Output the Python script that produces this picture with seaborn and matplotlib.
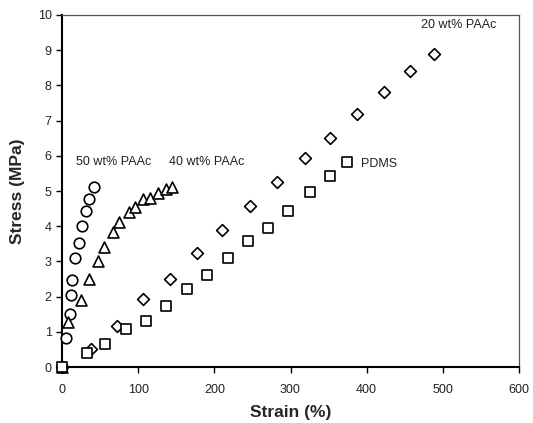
import pandas as pd
import seaborn as sns
import matplotlib.pyplot as plt

# 50 wt% PAAc (circles)
strain_50 = [0, 5, 10, 12, 13, 17.5, 22, 26, 31, 35, 42]
stress_50 = [0, 0.82, 1.50, 2.04, 2.46, 3.09, 3.51, 4.00, 4.44, 4.77, 5.11]

# 40 wt% PAAc (triangles)
strain_40 = [0, 7.5, 24.5, 35, 47, 55, 66.5, 75, 88, 96, 107, 116, 126, 137, 145]
stress_40 = [0, 1.29, 1.90, 2.50, 3.01, 3.42, 3.84, 4.12, 4.41, 4.55, 4.76, 4.81, 4.93, 5.05, 5.10]

# 20 wt% PAAc (diamonds)
strain_20 = [0, 37.5, 72.5, 107, 142, 177, 210.5, 246.5, 282, 319.5, 351.5, 387, 423, 457, 488]
stress_20 = [0, 0.50, 1.16, 1.93, 2.51, 3.24, 3.90, 4.58, 5.25, 5.93, 6.51, 7.18, 7.80, 8.42, 8.90]

# PDMS (squares)
strain_pdms = [0, 33, 57, 84, 110.5, 137, 163.5, 190.5, 217.5, 244, 270, 297, 325, 351.5, 374.5]
stress_pdms = [0, 0.41, 0.64, 1.07, 1.32, 1.74, 2.23, 2.61, 3.09, 3.57, 3.95, 4.44, 4.96, 5.44, 5.83]

series = [
    ('50 wt% PAAc', strain_50, stress_50, 'o', 58),
    ('40 wt% PAAc', strain_40, stress_40, '^', 62),
    ('20 wt% PAAc', strain_20, stress_20, 'D', 36),
    ('PDMS', strain_pdms, stress_pdms, 's', 56),
]

sns.set_style('ticks')
plt.rcParams['font.family'] = ['Liberation Sans', 'DejaVu Sans']

fig = plt.figure(figsize=(5.33, 4.23), dpi=100)
ax = fig.add_axes([62 / 533, 56 / 423, 457 / 533, 352 / 423])

for name, xs, ys, marker, size in series:
    df = pd.DataFrame({'Strain': xs, 'Stress': ys})
    sns.scatterplot(data=df, x='Strain', y='Stress', ax=ax, marker=marker, s=size,
                    facecolor='white', edgecolor='black', linewidth=1.2,
                    clip_on=False, zorder=3, legend=False)

# series labels
ax.text(18, 5.82, '50 wt% PAAc', fontsize=9, color='#222222', va='center')
ax.text(140, 5.82, '40 wt% PAAc', fontsize=9, color='#222222', va='center')
ax.text(471, 9.72, '20 wt% PAAc', fontsize=9, color='#222222', va='center')
ax.text(393, 5.77, 'PDMS', fontsize=9, color='#222222', va='center')

ax.set_xlim(0, 600)
ax.set_ylim(0, 10)
ax.set_xticks(range(0, 601, 100))
ax.set_yticks(range(0, 11))
ax.tick_params(axis='both', direction='out', length=4, width=1, colors='black',
               labelsize=9, labelcolor='#222222')
ax.tick_params(axis='x', pad=8)

for side in ['left', 'bottom']:
    ax.spines[side].set_color('black')
    ax.spines[side].set_linewidth(1.5)
for side in ['top', 'right']:
    ax.spines[side].set_visible(True)
    ax.spines[side].set_color('#555555')
    ax.spines[side].set_linewidth(0.9)

ax.set_xlabel('Strain (%)', fontsize=12.5, fontweight='bold', labelpad=7)
ax.set_ylabel('Stress (MPa)', fontsize=12.5, fontweight='bold', labelpad=9)

plt.savefig('out.png', dpi=100)
plt.close()
